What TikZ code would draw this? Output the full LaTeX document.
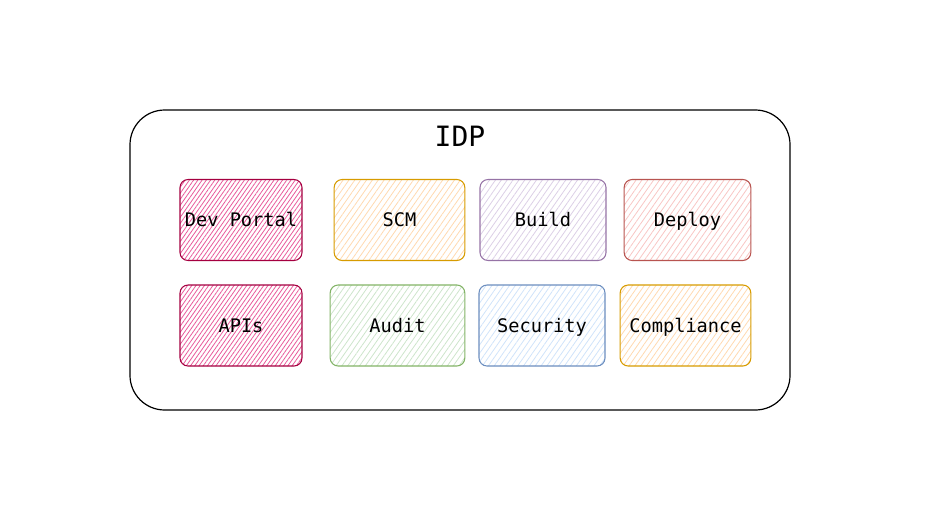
\documentclass[tikz,border=0pt]{standalone}
\usepackage{fontspec}
\setmonofont{DejaVu Sans Mono}
\usepackage{xcolor}
\usepackage{tikz}
\usetikzlibrary{patterns.meta,positioning}
\definecolor{portalLine}{HTML}{A50040}
\definecolor{portalFill}{HTML}{E85A9A}
\definecolor{orangeLine}{HTML}{D79B00}
\definecolor{orangeFill}{HTML}{FFD9B0}
\definecolor{purpleLine}{HTML}{9673A6}
\definecolor{purpleFill}{HTML}{DCCFE6}
\definecolor{redLine}{HTML}{B85450}
\definecolor{redFill}{HTML}{F8C6C4}
\definecolor{greenLine}{HTML}{82B366}
\definecolor{greenFill}{HTML}{CDE5CB}
\definecolor{blueLine}{HTML}{6C8EBF}
\definecolor{blueFill}{HTML}{D0E3FA}
\tikzset{
  frame/.style={draw=black, line width=0.9pt, rounded corners=26pt,
    minimum width=495pt, minimum height=225pt},
  tool/.style={draw=#1Line, line width=0.8pt, rounded corners=6pt,
    pattern={Lines[angle=55,distance=3.6pt,line width=0.6pt]}, pattern color=#1Fill,
    minimum height=60.75pt, inner sep=0pt, text height=11pt, text depth=1pt,
    font=\ttfamily\fontsize{14}{16}\selectfont},
  portal/.style={tool=portal,
    pattern={Lines[angle=55,distance=2.6pt,line width=0.6pt]}},
}

\begin{document}
\begin{tikzpicture}[x=0.75pt, y=-0.75pt]
  \useasboundingbox (0,0) rectangle (931,511);

  % --- outer platform box ---
  \node[frame] (idp) at (460,260) {};
  \node[font=\ttfamily\fontsize{21}{24}\selectfont] (title) at (460,136) {IDP};

  % --- top row ---
  \node[portal, minimum width=91.5pt] (portal) at (241,220) {Dev Portal};
  \node[tool=orange, minimum width=98pt] (scm) at (399.5,220) {SCM};
  \node[tool=purple, minimum width=94.5pt] (build) at (543,220) {Build};
  \node[tool=red, minimum width=95pt] (deploy) at (687.5,220) {Deploy};

  % --- bottom row ---
  \node[portal, minimum width=91.5pt] (apis) at (241,325.5) {APIs};
  \node[tool=green, minimum width=101pt] (audit) at (397.5,325.5) {Audit};
  \node[tool=blue, minimum width=94.5pt] (security) at (542,325.5) {Security};
  \node[tool=orange, minimum width=98pt] (compliance) at (685.5,325.5) {Compliance};
\end{tikzpicture}
\end{document}
